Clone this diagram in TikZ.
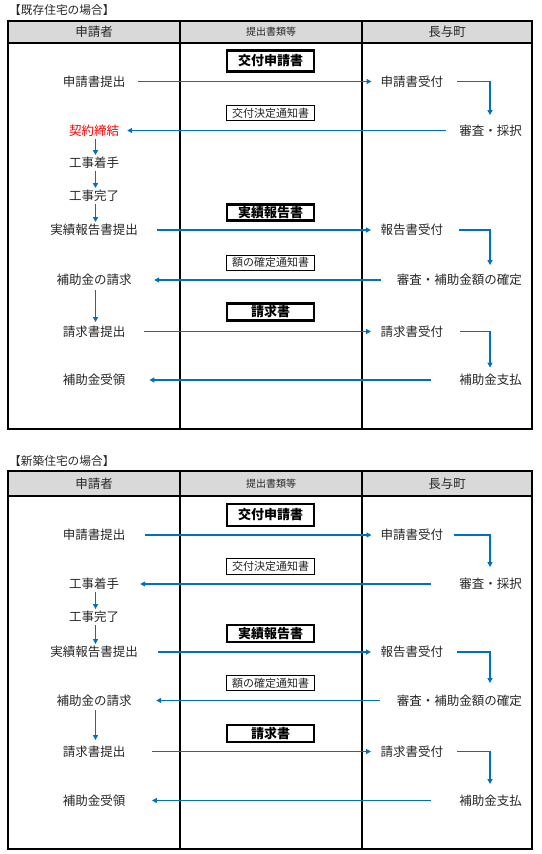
\documentclass[tikz,border=0pt]{standalone}
\usepackage{fontspec}
\setmainfont{Noto Sans CJK JP}
\usetikzlibrary{arrows.meta}
\definecolor{flowblue}{HTML}{0070C0}
\definecolor{hdrgray}{HTML}{D9D9D9}
\definecolor{txt}{HTML}{262626}
\begin{document}
\begin{tikzpicture}[x=1pt,y=-1pt,
  lbl/.style={inner sep=0pt, text height=11pt, text depth=1.5pt, font=\fontsize{12.5}{14}\selectfont, text=txt},
  ttl/.style={inner sep=0pt, anchor=west, font=\fontsize{11.7}{14}\selectfont, text=txt},
  hdrsmall/.style={inner sep=0pt, font=\fontsize{10}{12}\selectfont, text=txt},
  thickbox/.style={draw=black, line width=2.2pt, fill=white, minimum width=87pt, inner sep=0pt, font=\fontsize{13}{14}\selectfont\bfseries, text=black},
  thinbox/.style={draw=black, line width=1pt, fill=white, minimum width=88pt, inner sep=0pt, font=\fontsize{11}{12}\selectfont, text=txt},
  frame/.style={draw=black, line width=1.5pt},
  divider/.style={draw=black, line width=1.2pt},
  arr/.style={draw=flowblue, line width=1.5pt, -{Triangle[length=5pt,width=5pt]}},
]
\useasboundingbox (0,0) rectangle (541,854);
\coordinate (ex) at (490,0);

% ================= Table 1 =================
\node[ttl] (t1) at (9,10) {【既存住宅の場合】};
\fill[hdrgray] (8,21) rectangle (532,43);
\draw[divider] (8,43) -- (532,43);
\draw[divider] (180,21) -- (180,429);
\draw[divider] (362,21) -- (362,429);
\draw[frame] (8,21) rectangle (532,429);
\node[lbl] (h1a) at (94,32) {申請者};
\node[hdrsmall] (h1b) at (271,32) {提出書類等};
\node[lbl] (h1c) at (447,32) {長与町};

\node[thickbox, minimum height=21pt] (p1a) at (270.5,61) {交付申請書};
\node[thinbox, minimum height=15pt] (p1b) at (270.5,113) {交付決定通知書};
\node[thickbox, minimum height=16pt] (p1c) at (270.5,212.5) {実績報告書};
\node[thinbox, minimum height=15pt] (p1d) at (270.5,262.5) {額の確定通知書};
\node[thickbox, minimum height=17pt] (p1e) at (270.5,312) {請求書};

\node[lbl] (a11) at (94,81.5) {申請書提出};
\node[lbl, text=red] (a12) at (94,130.5) {契約締結};
\node[lbl] (a13) at (94,163) {工事着手};
\node[lbl] (a14) at (94,196) {工事完了};
\node[lbl] (a15) at (94,230) {実績報告書提出};
\node[lbl] (a16) at (94,280) {補助金の請求};
\node[lbl] (a17) at (94,331.5) {請求書提出};
\node[lbl] (a18) at (94,380) {補助金受領};

\node[lbl, anchor=west] (c11) at (380.5,81.5) {申請書受付};
\node[lbl, anchor=east] (c12) at (522,130.5) {審査・採択};
\node[lbl, anchor=west] (c13) at (380.5,230) {報告書受付};
\node[lbl, anchor=east] (c14) at (522,280) {審査・補助金額の確定};
\node[lbl, anchor=west] (c15) at (380.5,331.5) {請求書受付};
\node[lbl, anchor=east] (c16) at (522,380) {補助金支払};

\draw[arr, shorten <=13pt, shorten >=9pt] (a11) -- (c11);
\draw[arr, shorten <=14pt, shorten >=9pt] (c11.east) -| (c12.north -| ex);
\draw[arr, shorten <=13.5pt, shorten >=8pt] (c12) -- (a12);
\draw[arr, shorten <=2pt, shorten >=1.5pt] ([xshift=1.5pt]a12.south) -- ([xshift=1.5pt]a13.north);
\draw[arr, shorten <=2pt, shorten >=1.5pt] ([xshift=1.5pt]a13.south) -- ([xshift=1.5pt]a14.north);
\draw[arr, shorten <=2pt, shorten >=1.5pt] ([xshift=1.5pt]a14.south) -- ([xshift=1.5pt]a15.north);
\draw[arr, shorten <=19pt, shorten >=9.5pt] (a15) -- (c13);
\draw[arr, shorten <=16pt, shorten >=8.5pt] (c13.east) -| (c14.north -| ex);
\draw[arr, shorten <=16pt, shorten >=22.5pt] (c14) -- (a16);
\draw[arr, shorten <=4pt, shorten >=3pt] ([xshift=1.5pt]a16.south) -- ([xshift=1.5pt]a17.north);
\draw[arr, shorten <=19pt, shorten >=9.5pt] (a17) -- (c15);
\draw[arr, shorten <=17pt, shorten >=6pt] (c15.east) -| (c16.north -| ex);
\draw[arr, shorten <=28.5pt, shorten >=24pt] (c16) -- (a18);

% ================= Table 2 =================
\node[ttl] (t2) at (9,461) {【新築住宅の場合】};
\fill[hdrgray] (8,471) rectangle (532,496);
\draw[divider] (8,496) -- (532,496);
\draw[divider] (180,471) -- (180,849);
\draw[divider] (362,471) -- (362,849);
\draw[frame] (8,471) rectangle (532,849);
\node[lbl] (h2a) at (94,483.5) {申請者};
\node[hdrsmall] (h2b) at (271,483.5) {提出書類等};
\node[lbl] (h2c) at (447,483.5) {長与町};

\node[thickbox, minimum height=22pt] (p2a) at (270.5,515) {交付申請書};
\node[thinbox, minimum height=16pt] (p2b) at (270.5,566.5) {交付決定通知書};
\node[thickbox, minimum height=17pt] (p2c) at (270.5,633.5) {実績報告書};
\node[thinbox, minimum height=15pt] (p2d) at (270.5,683) {額の確定通知書};
\node[thickbox, minimum height=17pt] (p2e) at (270.5,733.5) {請求書};

\node[lbl] (a21) at (94,535) {申請書提出};
\node[lbl] (a22) at (94,584) {工事着手};
\node[lbl] (a24) at (94,617) {工事完了};
\node[lbl] (a25) at (94,652) {実績報告書提出};
\node[lbl] (a26) at (94,700.5) {補助金の請求};
\node[lbl] (a27) at (94,751.5) {請求書提出};
\node[lbl] (a28) at (94,800.5) {補助金受領};

\node[lbl, anchor=west] (c21) at (380.5,535) {申請書受付};
\node[lbl, anchor=east] (c22) at (522,584) {審査・採択};
\node[lbl, anchor=west] (c23) at (380.5,652) {報告書受付};
\node[lbl, anchor=east] (c24) at (522,700.5) {審査・補助金額の確定};
\node[lbl, anchor=west] (c25) at (380.5,751.5) {請求書受付};
\node[lbl, anchor=east] (c26) at (522,800.5) {補助金支払};

\draw[arr, shorten <=20pt, shorten >=9pt] (a21) -- (c21);
\draw[arr, shorten <=11pt, shorten >=10.5pt] (c21.east) -| (c22.north -| ex);
\draw[arr, shorten <=28.5pt, shorten >=21pt] (c22) -- (a22);
\draw[arr, shorten <=2pt, shorten >=1.5pt] ([xshift=1.5pt]a22.south) -- ([xshift=1.5pt]a24.north);
\draw[arr, shorten <=2pt, shorten >=1.5pt] ([xshift=1.5pt]a24.south) -- ([xshift=1.5pt]a25.north);
\draw[arr, shorten <=20pt, shorten >=9.5pt] (a25) -- (c23);
\draw[arr, shorten <=14pt, shorten >=11pt] (c23.east) -| (c24.north -| ex);
\draw[arr, shorten <=17pt, shorten >=24.5pt] (c24) -- (a26);
\draw[arr, shorten <=3pt, shorten >=5pt] ([xshift=1.5pt]a26.south) -- ([xshift=1.5pt]a27.north);
\draw[arr, shorten <=27pt, shorten >=9.5pt] (a27) -- (c25);
\draw[arr, shorten <=14pt, shorten >=10pt] (c25.east) -| (c26.north -| ex);
\draw[arr, shorten <=28.5pt, shorten >=26.5pt] (c26) -- (a28);
\end{tikzpicture}
\end{document}
